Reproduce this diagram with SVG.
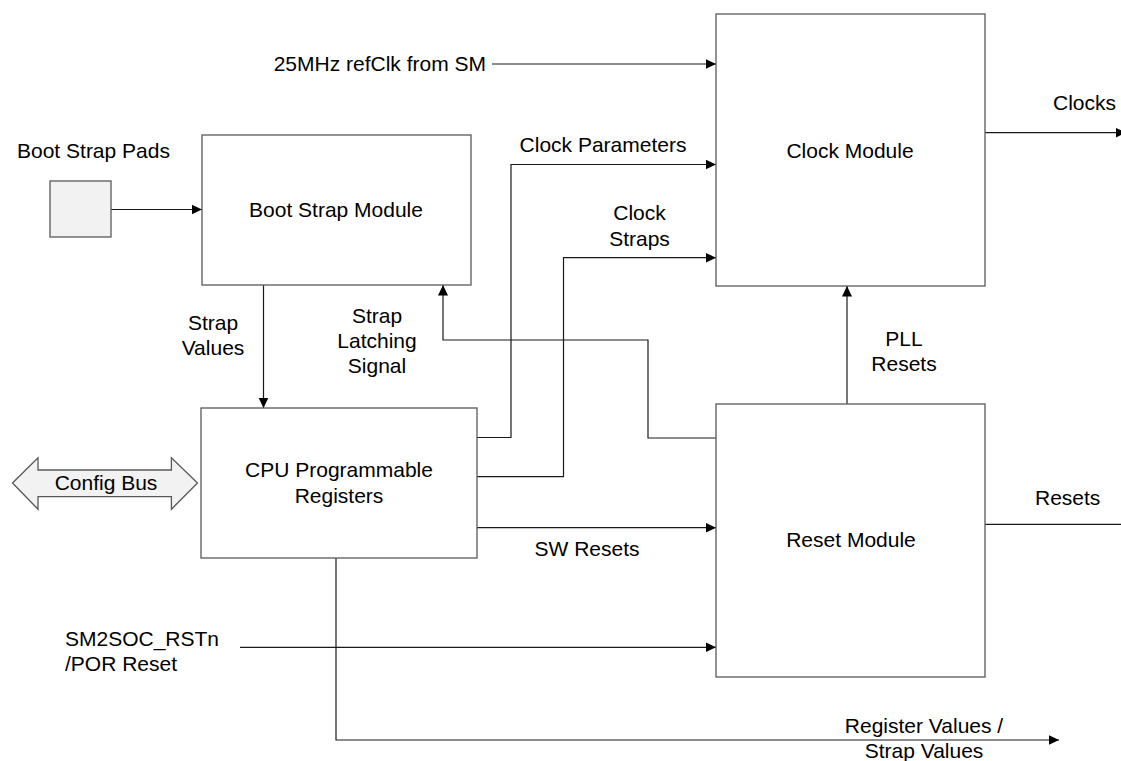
<svg xmlns="http://www.w3.org/2000/svg" width="1121" height="761" viewBox="0 0 1121 761">
<style>
text{font-family:"Liberation Sans",Arial,sans-serif;font-size:21px;fill:#000}
.c{text-anchor:middle}
.box{fill:#fff;stroke:#595959;stroke-width:1.3}
.pad{fill:#f2f2f2;stroke:#595959;stroke-width:1.3}
.ln{fill:none;stroke:#1a1a1a;stroke-width:1.2;marker-end:url(#ah)}
</style>
<defs>
<marker id="ah" markerUnits="userSpaceOnUse" markerWidth="11" markerHeight="11" refX="10.5" refY="5.5" orient="auto">
<path d="M0,0.5 L10.5,5.5 L0,10.5 z" fill="#000"/>
</marker>
</defs>
<rect width="1121" height="761" fill="#fff"/>
<g id="connectors">
<path class="ln" d="M492,64 H716"/>
<path class="ln" d="M111,209.5 H202"/>
<path class="ln" d="M263.5,285 V408"/>
<path class="ln" d="M716,438 H648 V340 H443 V285"/>
<path class="ln" d="M477,437.5 H511 V164.5 H716"/>
<path class="ln" d="M477,476.7 H563.5 V257.7 H716"/>
<path class="ln" d="M477,527.7 H716"/>
<path class="ln" d="M847,404 V286"/>
<path class="ln" d="M985,132.7 H1126"/>
<path class="ln" d="M985,524.3 H1131.5"/>
<path class="ln" d="M240,647.3 H716"/>
<path class="ln" d="M336,558 V740 H1059"/>
</g>
<g id="labels">
<text x="486" y="71" text-anchor="end">25MHz refClk from SM</text>
<text x="17" y="158">Boot Strap Pads</text>
<text class="c" x="213" y="330">Strap</text>
<text class="c" x="213" y="355">Values</text>
<text class="c" x="377" y="323">Strap</text>
<text class="c" x="377" y="348">Latching</text>
<text class="c" x="377" y="373">Signal</text>
<text class="c" x="603" y="152">Clock Parameters</text>
<text class="c" x="639.5" y="220">Clock</text>
<text class="c" x="639.5" y="246">Straps</text>
<text x="1053" y="110">Clocks</text>
<text class="c" x="904" y="346">PLL</text>
<text class="c" x="904" y="371">Resets</text>
<text class="c" x="587" y="556">SW Resets</text>
<text x="1035" y="505">Resets</text>
<text x="65" y="646">SM2SOC_RSTn</text>
<text x="65" y="671">/POR Reset</text>
<text class="c" x="924" y="733">Register Values /</text>
<text class="c" x="924" y="758">Strap Values</text>
</g>
<g id="pads">
<rect class="pad" x="50" y="181" width="61" height="56"/>
</g>
<g id="bootstrap">
<rect class="box" x="202" y="135" width="269" height="150"/>
<text class="c" x="336" y="217">Boot Strap Module</text>
</g>
<g id="clock">
<rect class="box" x="716" y="14" width="269" height="272"/>
<text class="c" x="850" y="158">Clock Module</text>
</g>
<g id="cpu">
<rect class="box" x="201" y="408" width="276" height="150"/>
<text class="c" x="339" y="477">CPU Programmable</text>
<text class="c" x="339" y="503">Registers</text>
</g>
<g id="reset">
<rect class="box" x="716" y="404" width="269" height="273"/>
<text class="c" x="851" y="547">Reset Module</text>
</g>
<g id="configbus">
<polygon class="pad" points="12.5,483 38,457.7 38,470 171.4,470 171.4,457.7 197.5,483 171.4,509.3 171.4,496.7 38,496.7 38,509.3"/>
<text class="c" x="106" y="490">Config Bus</text>
</g>
</svg>
